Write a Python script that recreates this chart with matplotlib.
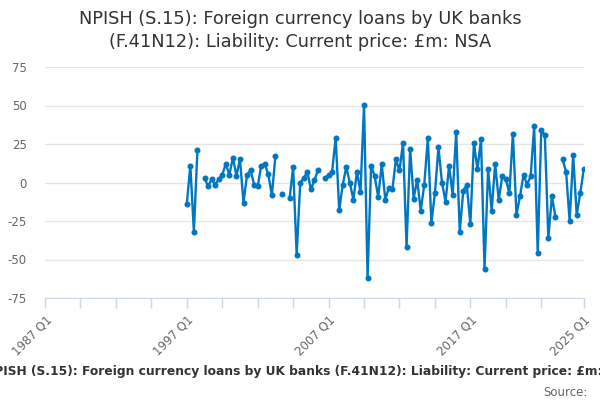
import numpy as np
import matplotlib.pyplot as plt

nan = np.nan

# quarters 1987 Q1 .. 2025 Q1
quarters = ["%d Q%d" % (1987 + i // 4, i % 4 + 1) for i in range(153)]

# values from 1997 Q1 onwards (earlier quarters have no data)
values_from_1997 = [
    -14, 11, -32, 21, nan, 3, -2.5, 2, -1.3, 2,
    5, 12, 5, 16, 4.5, 15, -13, 5, 8, -1.3,
    -2.5, 11, 12, 5.3, -8.3, 17, nan, -7.2, nan, -10.3,
    10, -47, 0, 2.8, 7, -4.3, 1.3, 8, nan, 2.8,
    5, 7, 29, -18, -1.3, 10, -0.2, -11.2, 7, -6.3,
    50.6, -62, 11, 4, -9.4, 11.8, -11.2, -3.4, -4.5, 15,
    7.8, 25.7, -42, 22, -10.4, 1.9, -18.4, -1.3, 29, -26.2,
    -7.1, 22.9, -0.2, -12.5, 11, -8.2, 32.9, -32.2, -5.2, -1.7,
    -27, 25.7, 8.5, 28, -56, 8.6, -18.2, 12, -11.2, 4,
    2.4, -7, 31.8, -21, -9, 5, -1.3, 3.9, 36.5, -46,
    34, 30.7, -36, -9, -22.3, nan, 15, 7, -25, 17.7,
    -21, -7, 8.6,
]
values = [nan] * 40 + values_from_1997

label_quarters = ["1987 Q1", "1997 Q1", "2007 Q1", "2017 Q1", "2025 Q1"]
y_ticks = [-75, -50, -25, 0, 25, 50, 75]

title = "NPISH (S.15): Foreign currency loans by UK banks\n(F.41N12): Liability: Current price: £m: NSA"
footer = "NPISH (S.15): Foreign currency loans by UK banks (F.41N12): Liability: Current price: £m: NSA"

blue = "#0077c0"
axis_col = "#ccd6eb"
grid_col = "#e6e6e6"
text_col = "#666666"

fig = plt.figure(figsize=(6, 4), dpi=100)
ax = fig.add_axes([0.075, 0.255, 0.898, 0.5775])

x = np.arange(len(quarters))
ax.plot(x, values, color=blue, lw=1.7, marker="o", ms=3.3, zorder=3)

ax.set_xlim(0, len(quarters) - 1)
ax.set_ylim(-75, 75)
ax.set_yticks(y_ticks)
ax.set_yticklabels([str(v) for v in y_ticks], color=text_col, fontsize=8.5)
ax.tick_params(axis="y", length=0, pad=13)
ax.yaxis.grid(True, color=grid_col, lw=1)
ax.set_axisbelow(True)

major = [quarters.index(q) for q in label_quarters]
ax.set_xticks(major)
ax.set_xticklabels(label_quarters, rotation=45, ha="right", rotation_mode="anchor",
                   color=text_col, fontsize=8.5)
ax.set_xticks([i for i in range(0, 150, 10) if i not in major], minor=True)
ax.tick_params(axis="x", which="both", length=7, color=axis_col, width=1, pad=4)

for s in ["top", "right", "left"]:
    ax.spines[s].set_visible(False)
ax.spines["bottom"].set_color(axis_col)

# title: two centred lines
fig.text(0.5, 0.975, title, ha="center", va="top", fontsize=12.8, color="#333333",
         linespacing=1.35)
# footer runs past both edges, as in the original
fig.text(0.516, 0.07, footer, ha="center", va="center", fontsize=8.8, fontweight="bold",
         color="#333333")
fig.text(0.98, 0.02, "Source:", ha="right", va="center", fontsize=8.5, color=text_col)

fig.savefig("out.png", dpi=100)
